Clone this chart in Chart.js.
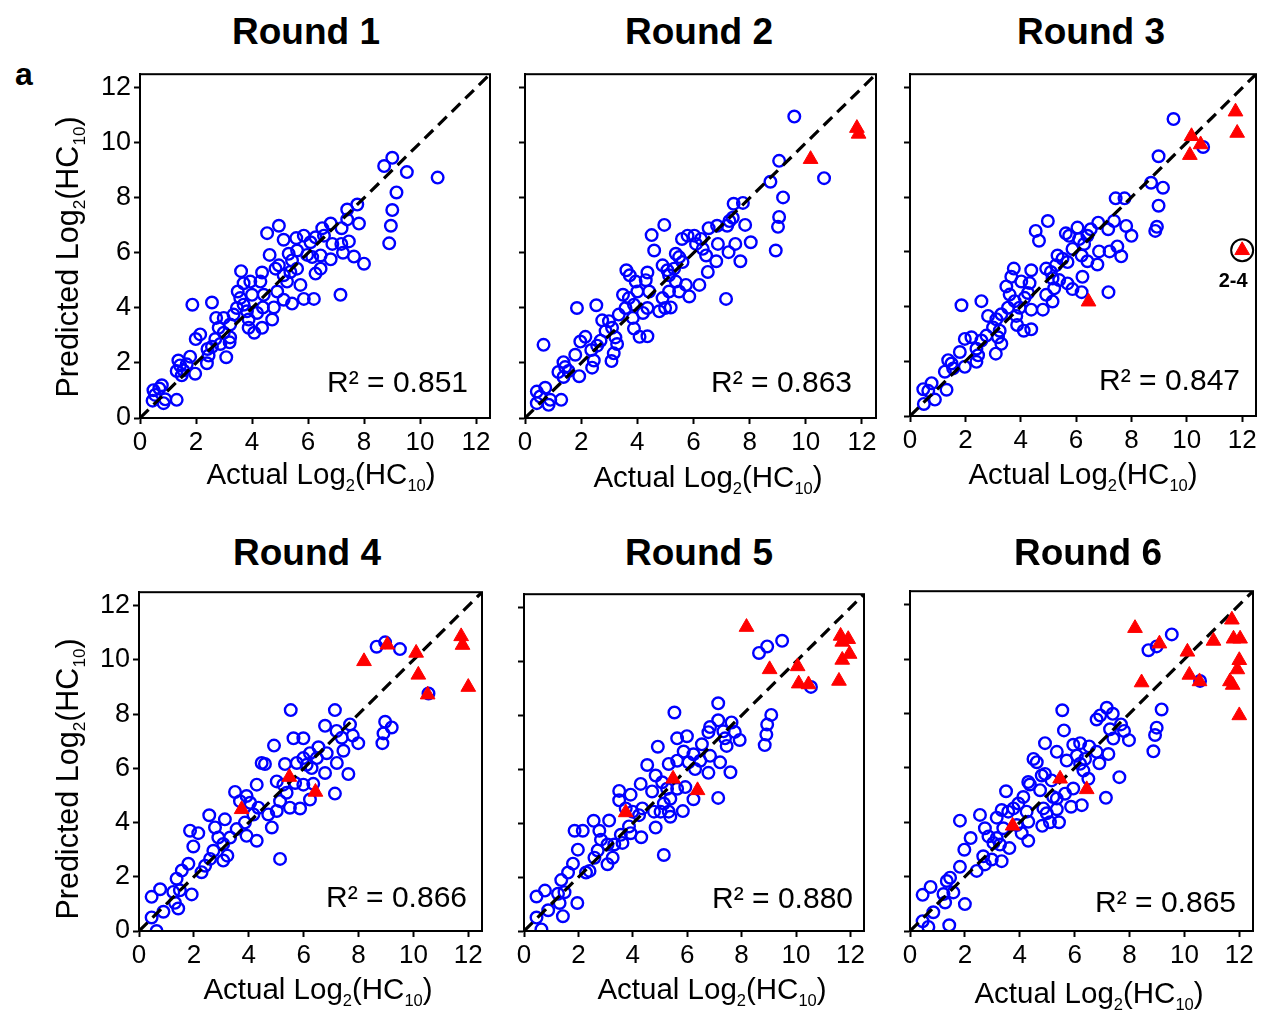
<!DOCTYPE html>
<html>
<head>
<meta charset="utf-8">
<script src="https://cdn.jsdelivr.net/npm/chart.js@4.4.0/dist/chart.umd.min.js"></script>
<style>
body { margin: 0; background: #fff; font-family: "Liberation Sans", Arial, sans-serif; }
#fig { position: relative; width: 1262px; height: 1013px; overflow: hidden; background: #fff; }
canvas { position: absolute; }
.title { position: absolute; font-weight: bold; font-size: 37px; line-height: 1; white-space: nowrap; transform: translateX(-50%); }
.xlab { position: absolute; font-size: 29.5px; line-height: 1; white-space: nowrap; transform: translateX(-50%); }
.ylab { position: absolute; font-size: 30.5px; line-height: 1; white-space: nowrap; transform: translate(-50%, -50%) rotate(-90deg); }
.tag { position: absolute; font-weight: bold; font-size: 32px; line-height: 1; }
sub { font-size: 0.56em; vertical-align: -0.45em; line-height: 0; }
</style>
</head>
<body>
<div id="fig"></div>
<script>
// ---- data: [actual, predicted] ----
const roundNames = ['Round 1', 'Round 2', 'Round 3', 'Round 4', 'Round 5', 'Round 6'];
const r2Values = ['0.851', '0.863', '0.847', '0.866', '0.880', '0.865'];
const axisTicks = [0, 2, 4, 6, 8, 10, 12];
const identityLine = [0, 12.5];

const blue1 = [[9.01,9.46],[8.72,9.16],[9.53,8.94],[10.63,8.74],[9.16,8.2],[9.01,7.56],[8.96,6.99],[8.9,6.35],
  [7.76,7.76],[7.4,7.58],[7.4,7.22],[7.82,7.07],[6.81,7.07],[6.51,6.9],[7.2,6.9],[7.46,6.42],[7.19,6.33],[7.25,6.01],
  [7.64,5.87],[8.0,5.61],[6.81,5.77],[7.16,4.48],[6.87,6.33],[6.57,6.63],[6.27,6.57],[6.09,6.39],[6.45,5.91],[6.27,5.25],
  [6.45,5.43],[6.21,4.33],[5.85,4.33],[5.43,4.16],[5.73,4.84],[5.85,6.63],[5.58,6.54],[6.15,5.85],[5.97,5.93],[5.61,6.09],
  [5.31,5.97],[5.43,5.73],[5.13,6.48],[4.96,6.99],[4.54,6.72],[4.63,5.93],[4.84,5.43],[4.96,5.55],[5.13,5.19],[5.37,5.31],
  [5.61,5.43],[5.25,4.96],[4.9,4.6],[5.13,4.3],[4.78,4.02],[4.72,3.58],[4.36,5.29],[4.3,4.96],[4.42,4.48],[4.39,4.02],
  [4.18,3.82],[4.0,4.48],[3.94,4.96],[3.61,5.34],[3.7,4.9],[3.49,4.6],[3.58,4.36],[3.7,4.12],[3.46,4.0],[3.82,3.88],
  [3.88,3.58],[3.88,3.28],[4.08,3.1],[4.36,3.28],[3.34,3.76],[3.22,3.4],[2.99,3.64],[2.72,3.64],[2.81,3.28],[2.99,3.1],
  [3.22,2.93],[3.2,2.75],[2.69,2.87],[2.87,2.69],[2.57,2.59],[2.41,2.51],[2.45,2.27],[2.39,1.99],[3.08,2.21],[2.15,3.04],
  [1.99,2.87],[1.87,4.12],[2.57,4.2],[1.79,2.23],[1.67,1.95],[1.37,2.09],[1.43,1.91],[1.31,1.71],[1.55,1.73],[1.97,1.61],
  [1.49,1.55],[1.31,0.66],[0.78,1.19],[0.69,1.07],[0.48,1.01],[0.54,0.84],[0.45,0.63],[0.84,0.54],[0.9,0.68]];
const red1 = [];

const blue2 = [[9.59,10.96],[9.05,9.35],[8.74,8.59],[10.65,8.72],[9.19,8.02],[9.05,7.31],[9.01,6.95],[8.93,6.09],
  [7.76,7.82],[7.43,7.79],[7.4,7.28],[7.28,7.16],[7.84,7.02],[7.2,6.99],[6.84,6.99],[6.54,6.9],[8.04,6.39],[7.49,6.33],
  [7.25,6.03],[7.67,5.7],[6.81,5.7],[7.16,4.33],[6.87,6.33],[6.27,6.51],[6.03,6.63],[5.79,6.63],[5.59,6.51],[6.09,6.33],
  [6.33,6.15],[6.45,5.91],[6.51,5.31],[6.21,4.84],[5.85,4.42],[5.73,4.84],[5.37,5.97],[5.49,5.85],[5.61,5.67],[5.31,5.43],
  [5.13,5.19],[5.37,4.96],[5.13,4.6],[5.49,4.6],[4.9,4.36],[5.19,4.02],[4.99,4.0],[4.78,3.88],[4.96,7.02],[4.51,6.65],
  [4.6,6.09],[4.9,5.55],[5.07,5.37],[4.36,5.29],[4.3,5.01],[4.42,4.6],[4.36,4.0],[4.2,3.82],[4.0,4.6],[3.94,4.96],
  [3.61,5.37],[3.73,5.19],[3.49,4.48],[3.7,4.36],[3.88,4.12],[3.58,4.0],[3.34,3.76],[3.84,3.64],[3.88,3.25],[4.08,2.95],
  [4.36,2.97],[2.99,3.52],[2.75,3.55],[2.87,3.16],[3.1,3.28],[3.22,2.93],[3.28,2.69],[2.69,2.81],[2.57,2.63],[2.36,2.47],
  [2.45,2.09],[2.39,1.83],[3.08,2.07],[3.16,2.35],[2.15,2.95],[1.97,2.78],[1.85,4.0],[2.54,4.1],[1.79,2.3],[1.37,2.03],
  [1.43,1.85],[1.19,1.67],[1.55,1.71],[1.93,1.52],[1.37,1.49],[0.66,2.66],[1.29,0.66],[0.72,1.1],[0.42,0.96],[0.54,0.78],
  [0.42,0.54],[0.84,0.48],[0.9,0.66]];
const red2 = [[10.17,9.41],[11.82,10.54],[11.88,10.33]];

const blue3 = [[9.52,10.86],[8.98,9.5],[8.71,8.53],[9.14,8.35],[8.98,7.69],[8.92,6.92],[8.86,6.77],[7.43,7.96],
  [7.75,7.96],[7.37,7.13],[7.81,6.95],[6.8,7.07],[7.16,6.83],[8.0,6.59],[7.49,6.2],[7.21,6.02],[7.63,5.84],[6.83,6.02],
  [6.77,5.54],[7.17,4.53],[6.53,6.83],[6.05,6.89],[5.63,6.68],[5.75,6.59],[6.11,6.47],[6.29,6.29],[6.41,6.59],[5.87,6.11],
  [6.2,5.87],[6.41,5.66],[6.23,5.09],[5.87,4.64],[6.2,4.53],[5.33,5.87],[5.51,5.75],[5.69,5.63],[5.27,5.51],[5.09,5.27],
  [5.39,4.97],[5.69,4.85],[5.21,4.67],[4.92,4.43],[5.15,4.19],[4.8,3.89],[4.98,7.13],[4.54,6.77],[4.66,6.41],[4.92,5.39],
  [5.15,5.03],[4.38,5.33],[4.32,4.86],[4.26,4.5],[4.38,3.89],[4.14,4.32],[4.02,4.92],[3.75,5.39],[3.66,5.09],[3.48,4.74],
  [3.6,4.44],[3.78,4.2],[3.54,3.96],[3.96,3.96],[3.84,3.66],[3.87,3.33],[4.11,3.12],[4.38,3.17],[3.3,3.72],[3.12,3.54],
  [2.82,3.66],[3.0,3.24],[3.24,3.12],[3.18,2.88],[3.3,2.64],[2.76,2.94],[2.58,2.76],[2.22,2.88],[1.98,2.82],[2.4,2.46],
  [2.46,2.22],[2.4,1.98],[3.1,2.28],[1.86,4.05],[2.58,4.2],[1.8,2.34],[1.38,2.04],[1.5,1.92],[1.26,1.62],[1.56,1.74],
  [1.98,1.8],[1.32,0.96],[0.78,1.2],[0.48,0.98],[0.66,0.92],[0.9,0.6],[0.5,0.44],[10.59,9.84]];
const red3 = [[10.17,10.23],[10.5,9.93],[10.11,9.54],[11.76,11.13],[11.82,10.35],[12.0,6.06],[6.45,4.18]];
const highlight3 = [12.0, 6.06];
const highlightName = '2-4';

const blue4 = [[8.97,10.65],[8.66,10.49],[9.51,10.4],[10.55,8.76],[8.97,7.72],[9.21,7.51],[8.91,7.29],[8.87,6.93],
  [5.53,8.15],[7.14,8.15],[6.78,7.57],[7.69,7.62],[7.2,7.38],[7.39,7.13],[7.79,7.21],[7.99,6.93],[7.45,6.65],[5.63,7.11],
  [5.99,7.11],[4.92,6.84],[6.54,6.78],[6.84,6.56],[6.23,6.56],[5.99,6.38],[6.48,6.38],[6.11,6.13],[5.75,6.2],[6.29,6.01],
  [7.21,6.2],[6.78,5.83],[7.63,5.79],[7.14,5.07],[6.35,5.43],[6.23,4.85],[5.87,4.52],[5.32,6.16],[4.47,6.2],[4.59,6.16],
  [4.29,5.4],[5.02,5.52],[5.26,5.4],[5.69,5.46],[5.99,5.4],[5.38,5.1],[5.14,4.79],[5.5,4.55],[5.02,4.43],[4.71,4.3],
  [4.84,3.82],[3.5,5.13],[3.92,4.98],[3.68,4.79],[4.05,4.73],[4.35,4.55],[4.17,4.3],[3.86,4.0],[3.56,3.76],[3.92,3.51],
  [4.29,3.33],[3.13,4.12],[2.77,3.82],[2.56,4.27],[2.89,3.45],[3.07,3.21],[3.32,3.45],[2.71,2.96],[3.07,2.6],[3.22,2.78],
  [2.59,2.66],[2.41,2.41],[2.28,2.17],[1.86,3.7],[2.16,3.61],[1.98,3.12],[1.8,2.48],[1.56,2.23],[1.37,1.93],[1.25,1.44],
  [1.49,1.5],[1.92,1.35],[0.77,1.54],[0.46,1.26],[1.31,1.04],[1.43,0.83],[0.89,0.71],[0.46,0.5],[0.64,0.0],[5.14,2.66]];
const red4 = [[8.2,9.95],[9.05,10.56],[10.1,10.26],[10.18,9.45],[10.52,8.72],[11.74,10.87],[11.79,10.55],[12.0,9.0],
  [5.48,5.68],[6.43,5.13],[3.74,4.49]];

const blue5 = [[9.49,10.77],[8.94,10.56],[8.64,10.32],[10.55,9.06],[9.09,8.02],[8.94,7.66],[8.91,7.29],[8.85,6.9],
  [5.53,8.11],[7.14,8.45],[7.14,7.82],[7.63,7.74],[6.84,7.57],[6.78,7.38],[7.33,7.41],[7.75,7.39],[7.39,7.15],[7.93,7.09],
  [7.45,6.87],[5.63,7.15],[5.99,7.23],[4.92,6.84],[6.54,6.93],[5.87,6.66],[6.23,6.56],[6.84,6.5],[6.48,6.32],[6.05,6.26],
  [5.63,6.32],[6.29,6.01],[7.21,6.26],[6.78,5.87],[7.59,5.89],[7.14,4.94],[6.23,4.89],[5.84,4.45],[5.32,6.2],[4.53,6.16],
  [4.29,5.46],[4.71,5.18],[4.84,5.77],[5.08,5.52],[5.26,5.28],[5.63,5.28],[5.93,5.34],[5.38,4.91],[5.14,4.73],[4.78,4.43],
  [5.02,4.43],[5.32,4.43],[5.38,4.24],[4.84,3.84],[3.5,5.2],[3.92,5.06],[3.5,4.85],[3.74,4.55],[3.99,4.43],[4.35,4.55],
  [4.23,4.3],[3.86,3.88],[3.92,3.63],[4.31,3.48],[3.56,3.57],[3.13,4.1],[2.77,3.72],[2.56,4.09],[2.83,3.39],[3.07,3.21],
  [3.32,3.21],[2.71,2.99],[3.07,2.48],[3.26,2.72],[2.59,2.72],[2.41,2.23],[2.28,2.17],[1.86,3.72],[2.16,3.72],[1.98,3.02],
  [1.8,2.5],[1.62,2.17],[1.37,1.89],[1.25,1.38],[1.49,1.44],[1.96,1.04],[0.77,1.5],[0.46,1.28],[1.31,1.04],[1.43,0.55],
  [0.89,0.77],[0.46,0.5],[0.64,0.06],[5.14,2.82],[3.62,3.27]];
const red5 = [[8.18,11.28],[9.03,9.71],[10.06,9.82],[10.1,9.18],[10.46,9.15],[11.58,9.28],[11.64,10.95],[11.92,10.83],
  [11.7,10.73],[11.7,10.06],[11.97,10.28],[5.48,5.65],[6.38,5.22],[3.74,4.4]];

const blue6 = [[9.54,10.91],[8.99,10.47],[8.69,10.33],[10.57,9.2],[9.17,8.15],[8.99,7.48],[8.93,7.21],[8.87,6.61],
  [5.55,8.12],[7.17,8.21],[6.8,7.78],[6.93,7.93],[7.39,7.99],[7.69,7.6],[7.29,7.42],[7.8,7.36],[7.41,7.08],[7.98,7.02],
  [5.61,7.38],[4.92,6.91],[5.35,6.59],[5.95,6.85],[6.2,6.91],[6.53,6.79],[6.8,6.59],[7.23,6.51],[6.9,6.17],[6.38,6.33],
  [6.08,6.45],[5.71,6.27],[6.2,6.15],[6.32,5.9],[6.5,5.6],[7.63,5.66],[7.14,4.9],[6.26,4.63],[5.87,4.57],[4.5,6.33],
  [4.62,6.21],[4.31,5.48],[4.37,5.39],[4.8,5.72],[4.92,5.78],[5.16,5.54],[4.74,5.18],[5.22,4.93],[5.35,4.87],[5.95,5.24],
  [5.65,5.05],[4.86,4.51],[4.98,4.33],[5.35,4.48],[5.1,4.0],[5.43,4.0],[4.82,3.87],[3.5,5.14],[3.77,4.51],[3.34,4.45],
  [3.58,4.39],[3.95,4.69],[4.13,4.93],[4.25,4.39],[4.31,4.02],[3.89,3.9],[4.07,3.6],[4.31,3.32],[3.4,3.78],[3.16,4.17],
  [2.55,4.27],[2.73,3.78],[2.86,3.48],[3.04,3.24],[3.28,3.18],[3.62,3.05],[2.98,2.63],[3.34,2.57],[2.67,2.75],[2.73,2.45],
  [2.43,2.21],[2.21,3.42],[1.82,4.06],[1.98,2.99],[1.82,2.36],[1.46,1.96],[1.34,1.84],[1.22,1.36],[1.58,1.42],[2.0,0.99],
  [0.75,1.62],[0.46,1.33],[1.28,1.05],[1.43,0.21],[0.85,0.69],[0.46,0.36],[0.67,0.15],[3.16,3.42]];
const red6 = [[8.2,11.14],[9.09,10.57],[10.11,10.27],[10.18,9.42],[10.55,9.18],[8.44,9.14],[11.06,10.67],[11.73,11.45],
  [11.79,10.75],[12.03,10.75],[12.0,9.96],[11.93,9.62],[11.66,9.18],[11.76,9.05],[12.0,7.93],[5.47,5.6],[6.44,5.21],[3.74,3.87]];

const blueSets = [blue1, blue2, blue3, blue4, blue5, blue6];
const redSets = [red1, red2, red3, red4, red5, red6];

// ---- layout: plot box [left, top, right, bottom], R2 offsets, title / axis label spots ----
const boxes = [[140,70,490,418],[525,70,876,418],[910,70,1256,416],[139,588,482,931],[524,590,864,931],[910,587,1253,931]];
const r2Offsets = [[22,26],[24,26],[16,26],[15,24],[11,23],[17,19]];
const titlePos = [[306,13],[699,13],[1091,13],[307,534],[699,534],[1088,534]];
const xLabelPos = [[321,459],[708,462],[1083,459],[318,974],[712,974],[1089,978]];
const yLabelPos = [[67,257],[67,779]];

const fig = document.getElementById('fig');
const FONT = '"Liberation Sans", Arial, sans-serif';
const PAD_L = 70, PAD_T = 15, PAD_R = 20, PAD_B = 45;

function addDiv(cls, html, x, y) {
  const d = document.createElement('div');
  d.className = cls;
  d.innerHTML = html;
  d.style.left = x + 'px';
  d.style.top = y + 'px';
  fig.appendChild(d);
}

const toXY = arr => arr.map(p => ({x: p[0], y: p[1]}));

const framePlugin = {
  id: 'frame',
  afterDraw(chart) {
    const {ctx, chartArea: a} = chart;
    const o = chart.options.plugins.frame;
    ctx.save();
    ctx.strokeStyle = '#000';
    ctx.lineWidth = 2;
    ctx.strokeRect(a.left, a.top, a.right - a.left, a.bottom - a.top);
    ctx.fillStyle = '#000';
    ctx.font = '30px ' + FONT;
    ctx.textAlign = 'right';
    ctx.textBaseline = 'alphabetic';
    ctx.fillText('R\u00b2 = ' + o.r2, a.right - o.dx, a.bottom - o.dy);
    if (o.note) {
      const px = chart.scales.x.getPixelForValue(o.note[0]);
      const py = chart.scales.y.getPixelForValue(o.note[1]);
      ctx.font = 'bold 20px ' + FONT;
      ctx.textAlign = 'center';
      ctx.fillText(o.noteText, px - 9, py + 37);
    }
    ctx.restore();
  }
};

function axis(showLabels, fitKey, fitVal, size) {
  return {
    type: 'linear', min: identityLine[0], max: identityLine[1],
    afterFit: s => { s[fitKey] = fitVal; },
    afterBuildTicks: s => { s.ticks = axisTicks.map(v => ({value: v})); },
    border: {display: true, color: '#000', width: 2},
    grid: {display: true, drawOnChartArea: false, drawTicks: true, tickLength: 6, tickWidth: 2, tickColor: '#000'},
    ticks: {
      autoSkip: false, maxRotation: 0, color: '#000', padding: 3,
      font: {size: size, family: FONT},
      callback: v => showLabels ? String(v) : ''
    }
  };
}

boxes.forEach((b, i) => {
  const [l, t, r, bt] = b;
  const cv = document.createElement('canvas');
  const w = (r - l) + PAD_L + PAD_R, h = (bt - t) + PAD_T + PAD_B;
  cv.width = w; cv.height = h;
  cv.style.left = (l - PAD_L) + 'px';
  cv.style.top = (t - PAD_T) + 'px';
  fig.appendChild(cv);

  const datasets = [
    {
      data: toXY(redSets[i]), pointStyle: 'triangle', pointRadius: 8.5,
      backgroundColor: '#ff0000', borderColor: '#ff0000', borderWidth: 1, order: 0
    },
    {
      data: [{x: identityLine[0], y: identityLine[0]}, {x: identityLine[1], y: identityLine[1]}],
      showLine: true, borderColor: '#000', borderWidth: 3.2, borderDash: [12, 7],
      pointRadius: 0, order: 1
    },
    {
      data: toXY(blueSets[i]), pointStyle: 'circle', pointRadius: 5.8,
      backgroundColor: 'rgba(0,0,0,0)', borderColor: '#0000ff', borderWidth: 2.4, order: 2
    }
  ];
  if (i === 2) {
    datasets.push({
      data: [{x: highlight3[0], y: highlight3[1]}], pointStyle: 'circle', pointRadius: 11,
      backgroundColor: 'rgba(0,0,0,0)', borderColor: '#000', borderWidth: 2, order: -1
    });
  }

  new Chart(cv.getContext('2d'), {
    type: 'scatter',
    data: {datasets},
    options: {
      responsive: false, animation: false, events: [],
      layout: {padding: {top: PAD_T, right: PAD_R, left: 0, bottom: 0}},
      plugins: {
        legend: {display: false}, tooltip: {enabled: false},
        frame: {r2: r2Values[i], dx: r2Offsets[i][0], dy: r2Offsets[i][1],
                note: i === 2 ? highlight3 : null, noteText: highlightName}
      },
      scales: {
        x: axis(true, 'height', PAD_B, 26),
        y: axis(i % 3 === 0, 'width', PAD_L, 27)
      }
    },
    plugins: [framePlugin]
  });

  addDiv('title', roundNames[i], titlePos[i][0], titlePos[i][1]);
  addDiv('xlab', 'Actual Log<sub>2</sub>(HC<sub>10</sub>)', xLabelPos[i][0], xLabelPos[i][1]);
});

yLabelPos.forEach(p => addDiv('ylab', 'Predicted Log<sub>2</sub>(HC<sub>10</sub>)', p[0], p[1]));
addDiv('tag', 'a', 15, 58);
</script>
</body>
</html>
